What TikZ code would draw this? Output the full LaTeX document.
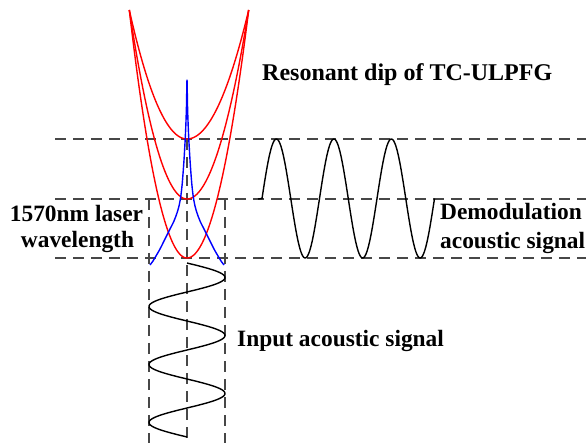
\documentclass[tikz,border=0pt]{standalone}
\usepackage{fontspec}
\setmainfont{Liberation Serif}
\begin{document}
\begin{tikzpicture}[x=1pt,y=-1pt,
  guide/.style={draw=black!72, line width=1.3pt, dash pattern=on 11pt off 7pt},
  curve/.style={line width=1.4pt, line join=round},
  lbl/.style={font=\bfseries\fontsize{23.4}{27}\selectfont, inner sep=0pt, anchor=base},
  lblw/.style={lbl, anchor=base west}]
\useasboundingbox (0,0) rectangle (586,443);
% guide lines
\coordinate (hA0) at (55,139);  \coordinate (hA1) at (586,139);
\coordinate (hB0) at (55,199);  \coordinate (hB1) at (586,199);
\coordinate (hC0) at (55,258);  \coordinate (hC1) at (586,258);
\coordinate (vL0) at (149,199); \coordinate (vL1) at (149,443);
\coordinate (vM0) at (187,139); \coordinate (vM1) at (187,443);
\coordinate (vR0) at (225,199); \coordinate (vR1) at (225,443);
\draw[guide] (hA0) -- (hA1);
\draw[guide] (hB0) -- (hB1);
\draw[guide] (hC0) -- (hC1);
\draw[guide] (vL0) -- (vL1);
\draw[guide] (vM0) -- (vM1);
\draw[guide] (vR0) -- (vR1);
% red resonant dips
\foreach \ym in {139,199,258}{
  \draw[red, curve] plot[domain=129.3:187, samples=60] (\x, {\ym-(\ym-10)*((\x-187)/57.7)^2})
    -- plot[domain=187:248.7, samples=60] (\x, {\ym-(\ym-10)*((\x-187)/61.7)^2});
}
% blue laser line
\draw[blue, curve] plot[smooth, tension=0.5] coordinates {
  (150,265) (153,261) (155.4,257) (160,249) (165,239) (169.5,230) (174,221) (177,213) (179,206) (180.7,197)
  (182,186) (183,174) (184,160) (185,143) (185.5,133) (186,121) (186.5,105) (187,80)
  (187.5,105) (188,121) (188.5,133) (189,143) (190,160) (191,174) (192,186) (193.3,197)
  (195,206) (197,213) (200,221) (204.5,230) (209,239) (214,249) (218.6,257) (221,261) (224,265)};
% input acoustic signal
\draw[curve] plot[domain=263:437, samples=160] ({187+38*sin((\x-263)*6.20690)}, \x);
% demodulated signal
\coordinate (d0) at (258,199);
\draw[curve] (d0) -- plot[domain=262:434.5, samples=200] (\x, {198.5-59.5*sin((\x-262)*6.26087)});
% labels
\node[lbl, font=\bfseries\fontsize{24}{28}\selectfont, anchor=base west] (title) at (262,81) {Resonant dip of TC-ULPFG};
\node[lbl] (laserA) at (76.5,222) {1570nm laser};
\node[lbl] (laserB) at (77.5,248) {wavelength};
\node[lblw] (demA) at (440,220) {Demodulation};
\node[lblw] (demB) at (440,248.5) {acoustic signal};
\node[lblw] (input) at (237,347) {Input acoustic signal};
\end{tikzpicture}
\end{document}
